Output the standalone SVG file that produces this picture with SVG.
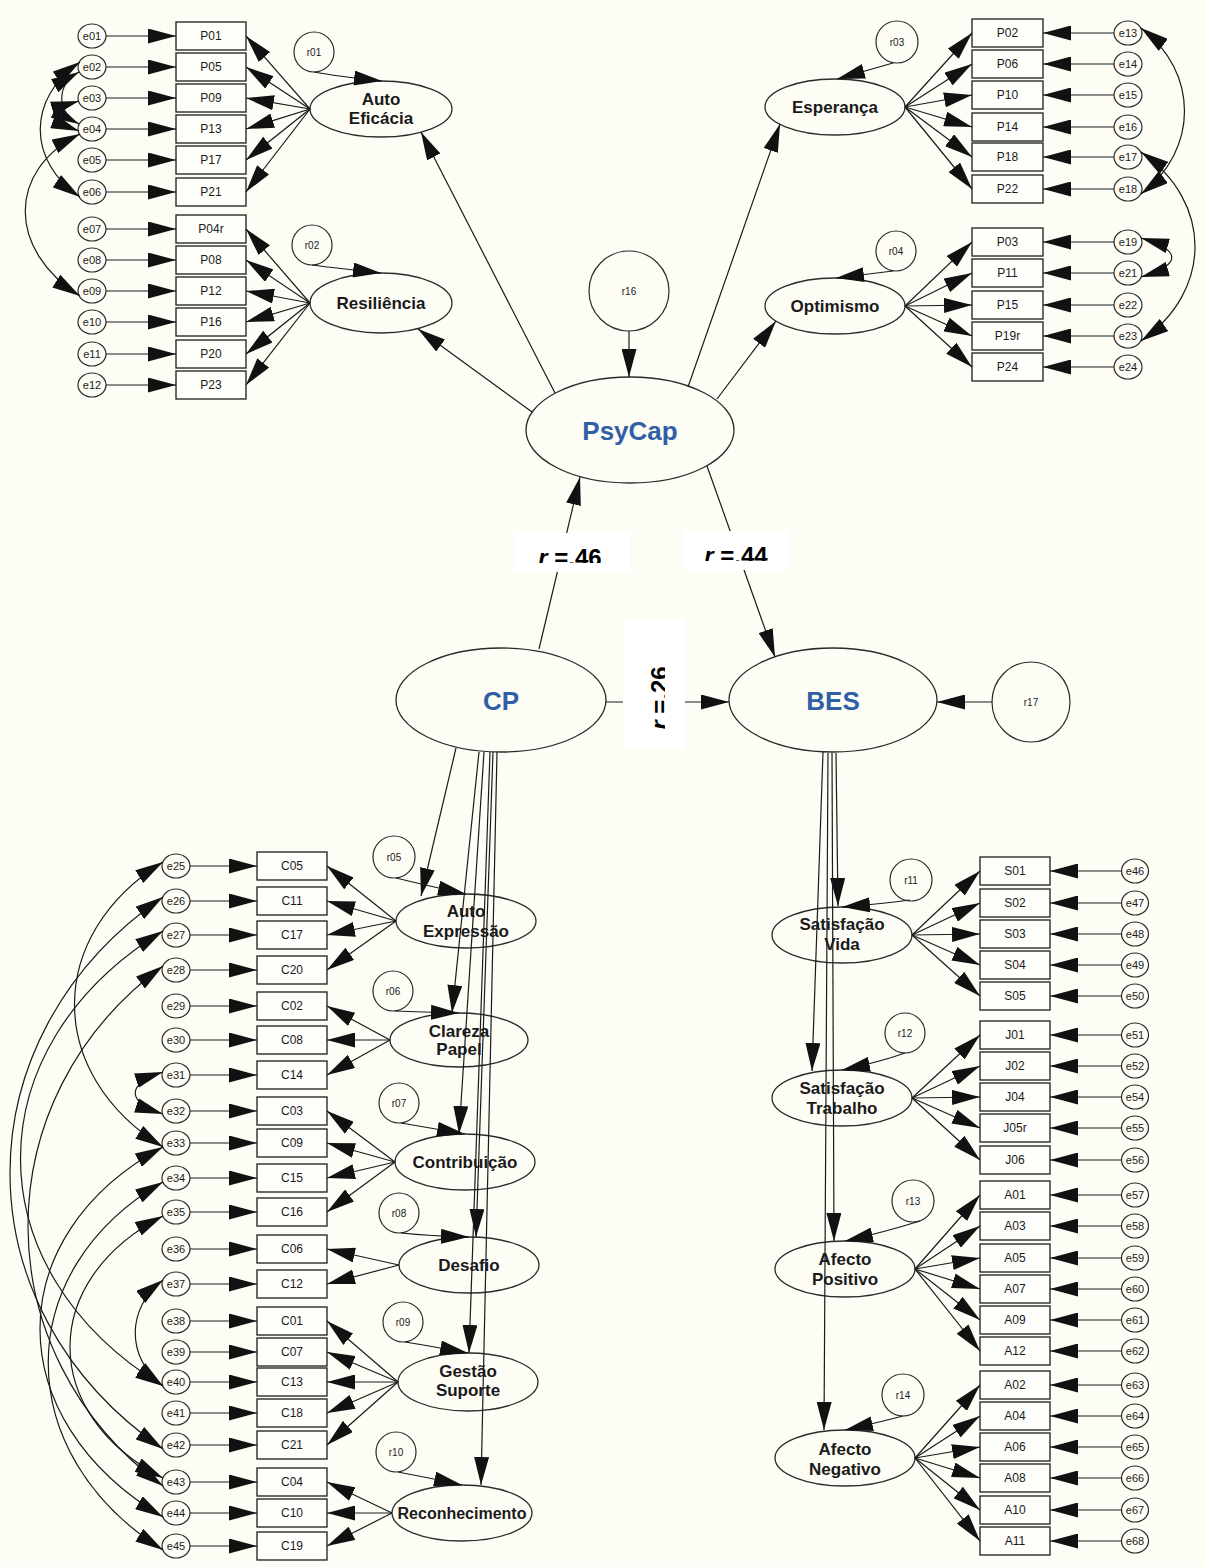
<svg xmlns="http://www.w3.org/2000/svg" width="1206" height="1567" viewBox="0 0 1206 1567">
<style>
.bg{fill:#fdfdf6}
.box{fill:#fefefa;stroke:#2a2a2a;stroke-width:1.4}
.lat{fill:#fdfdf6;stroke:#2a2a2a;stroke-width:1.3}
.err{fill:#fdfdf6;stroke:#2a2a2a;stroke-width:1.2}
.ln{fill:none;stroke:#1a1a1a;stroke-width:1.2;marker-end:url(#ah)}
.cv{fill:none;stroke:#1a1a1a;stroke-width:1.2;marker-start:url(#ahs);marker-end:url(#ah)}
text{font-family:"Liberation Sans",Arial,sans-serif;fill:#1a1a1a;text-anchor:middle}
.tb{font-size:12px}
.te{font-size:11px}
.tr{font-size:10px}
.tf{font-size:17px;font-weight:bold}
.tg{font-size:17px;font-weight:bold}
.tm{font-size:26px;font-weight:bold;fill:#2f60a6}
.tl{font-size:24px;font-weight:bold;fill:#000}
.wb{fill:#ffffff}
</style>
<defs>
<marker id="ah" markerUnits="userSpaceOnUse" markerWidth="28" markerHeight="15" refX="28" refY="7.5" orient="auto"><path d="M0,0 L28,7.5 L0,15 z" fill="#111"/></marker>
<marker id="ahs" markerUnits="userSpaceOnUse" markerWidth="28" markerHeight="15" refX="28" refY="7.5" orient="auto-start-reverse"><path d="M0,0 L28,7.5 L0,15 z" fill="#111"/></marker>
<clipPath id="c46"><rect x="515" y="533" width="115" height="30"/></clipPath>
<clipPath id="c44"><rect x="684" y="531" width="105" height="30"/></clipPath>
<clipPath id="c26"><rect x="623" y="619" width="42" height="130"/></clipPath>
</defs>
<rect class="bg" x="0" y="0" width="1206" height="1567"/>

<!-- Top-left: Auto Eficacia / Resiliencia -->
<g id="e01"><ellipse class="err" cx="92" cy="36" rx="14" ry="12"/><text class="te" x="92" y="40">e01</text></g>
<g id="e02"><ellipse class="err" cx="92" cy="67" rx="14" ry="12"/><text class="te" x="92" y="71">e02</text></g>
<g id="e03"><ellipse class="err" cx="92" cy="98" rx="14" ry="12"/><text class="te" x="92" y="102">e03</text></g>
<g id="e04"><ellipse class="err" cx="92" cy="129" rx="14" ry="12"/><text class="te" x="92" y="133">e04</text></g>
<g id="e05"><ellipse class="err" cx="92" cy="160" rx="14" ry="12"/><text class="te" x="92" y="164">e05</text></g>
<g id="e06"><ellipse class="err" cx="92" cy="192" rx="14" ry="12"/><text class="te" x="92" y="196">e06</text></g>
<g id="e07"><ellipse class="err" cx="92" cy="229" rx="14" ry="12"/><text class="te" x="92" y="233">e07</text></g>
<g id="e08"><ellipse class="err" cx="92" cy="260" rx="14" ry="12"/><text class="te" x="92" y="264">e08</text></g>
<g id="e09"><ellipse class="err" cx="92" cy="291" rx="14" ry="12"/><text class="te" x="92" y="295">e09</text></g>
<g id="e10"><ellipse class="err" cx="92" cy="322" rx="14" ry="12"/><text class="te" x="92" y="326">e10</text></g>
<g id="e11"><ellipse class="err" cx="92" cy="354" rx="14" ry="12"/><text class="te" x="92" y="358">e11</text></g>
<g id="e12"><ellipse class="err" cx="92" cy="385" rx="14" ry="12"/><text class="te" x="92" y="389">e12</text></g>

<g id="P01"><rect class="box" x="176" y="22" width="70" height="28"/><text class="tb" x="211" y="40">P01</text></g>
<g id="P05"><rect class="box" x="176" y="53" width="70" height="28"/><text class="tb" x="211" y="71">P05</text></g>
<g id="P09"><rect class="box" x="176" y="84" width="70" height="28"/><text class="tb" x="211" y="102">P09</text></g>
<g id="P13"><rect class="box" x="176" y="115" width="70" height="28"/><text class="tb" x="211" y="133">P13</text></g>
<g id="P17"><rect class="box" x="176" y="146" width="70" height="28"/><text class="tb" x="211" y="164">P17</text></g>
<g id="P21"><rect class="box" x="176" y="178" width="70" height="28"/><text class="tb" x="211" y="196">P21</text></g>
<g id="P04r"><rect class="box" x="176" y="215" width="70" height="28"/><text class="tb" x="211" y="233">P04r</text></g>
<g id="P08"><rect class="box" x="176" y="246" width="70" height="28"/><text class="tb" x="211" y="264">P08</text></g>
<g id="P12"><rect class="box" x="176" y="277" width="70" height="28"/><text class="tb" x="211" y="295">P12</text></g>
<g id="P16"><rect class="box" x="176" y="308" width="70" height="28"/><text class="tb" x="211" y="326">P16</text></g>
<g id="P20"><rect class="box" x="176" y="340" width="70" height="28"/><text class="tb" x="211" y="358">P20</text></g>
<g id="P23"><rect class="box" x="176" y="371" width="70" height="28"/><text class="tb" x="211" y="389">P23</text></g>

<g id="AutoEficacia"><ellipse class="lat" cx="381" cy="109" rx="71" ry="28"/><text class="tf" x="381" y="105">Auto</text><text class="tf" x="381" y="124">Eficácia</text></g>
<g id="Resiliencia"><ellipse class="lat" cx="381" cy="303" rx="71" ry="30"/><text class="tf" x="381" y="309">Resiliência</text></g>
<g id="r01"><circle class="err" cx="314" cy="52" r="20"/><text class="tr" x="314" y="56">r01</text></g>
<g id="r02"><circle class="err" cx="312" cy="245" r="20"/><text class="tr" x="312" y="249">r02</text></g>

<!-- Top-right: Esperanca / Optimismo -->
<g id="P02"><rect class="box" x="972" y="19" width="71" height="28"/><text class="tb" x="1007.5" y="37">P02</text></g>
<g id="P06"><rect class="box" x="972" y="50" width="71" height="28"/><text class="tb" x="1007.5" y="68">P06</text></g>
<g id="P10"><rect class="box" x="972" y="81" width="71" height="28"/><text class="tb" x="1007.5" y="99">P10</text></g>
<g id="P14"><rect class="box" x="972" y="113" width="71" height="28"/><text class="tb" x="1007.5" y="131">P14</text></g>
<g id="P18"><rect class="box" x="972" y="143" width="71" height="28"/><text class="tb" x="1007.5" y="161">P18</text></g>
<g id="P22"><rect class="box" x="972" y="175" width="71" height="28"/><text class="tb" x="1007.5" y="193">P22</text></g>
<g id="P03"><rect class="box" x="972" y="228" width="71" height="28"/><text class="tb" x="1007.5" y="246">P03</text></g>
<g id="P11"><rect class="box" x="972" y="259" width="71" height="28"/><text class="tb" x="1007.5" y="277">P11</text></g>
<g id="P15"><rect class="box" x="972" y="291" width="71" height="28"/><text class="tb" x="1007.5" y="309">P15</text></g>
<g id="P19r"><rect class="box" x="972" y="322" width="71" height="28"/><text class="tb" x="1007.5" y="340">P19r</text></g>
<g id="P24"><rect class="box" x="972" y="353" width="71" height="28"/><text class="tb" x="1007.5" y="371">P24</text></g>

<g id="e13"><ellipse class="err" cx="1128" cy="33" rx="14" ry="12"/><text class="te" x="1128" y="37">e13</text></g>
<g id="e14"><ellipse class="err" cx="1128" cy="64" rx="14" ry="12"/><text class="te" x="1128" y="68">e14</text></g>
<g id="e15"><ellipse class="err" cx="1128" cy="95" rx="14" ry="12"/><text class="te" x="1128" y="99">e15</text></g>
<g id="e16"><ellipse class="err" cx="1128" cy="127" rx="14" ry="12"/><text class="te" x="1128" y="131">e16</text></g>
<g id="e17"><ellipse class="err" cx="1128" cy="157" rx="14" ry="12"/><text class="te" x="1128" y="161">e17</text></g>
<g id="e18"><ellipse class="err" cx="1128" cy="189" rx="14" ry="12"/><text class="te" x="1128" y="193">e18</text></g>
<g id="e19"><ellipse class="err" cx="1128" cy="242" rx="14" ry="12"/><text class="te" x="1128" y="246">e19</text></g>
<g id="e21"><ellipse class="err" cx="1128" cy="273" rx="14" ry="12"/><text class="te" x="1128" y="277">e21</text></g>
<g id="e22"><ellipse class="err" cx="1128" cy="305" rx="14" ry="12"/><text class="te" x="1128" y="309">e22</text></g>
<g id="e23"><ellipse class="err" cx="1128" cy="336" rx="14" ry="12"/><text class="te" x="1128" y="340">e23</text></g>
<g id="e24"><ellipse class="err" cx="1128" cy="367" rx="14" ry="12"/><text class="te" x="1128" y="371">e24</text></g>

<g id="Esperanca"><ellipse class="lat" cx="835" cy="107" rx="70" ry="28"/><text class="tf" x="835" y="113">Esperança</text></g>
<g id="Optimismo"><ellipse class="lat" cx="835" cy="306" rx="70" ry="28"/><text class="tf" x="835" y="312">Optimismo</text></g>
<g id="r03"><circle class="err" cx="897" cy="42" r="21"/><text class="tr" x="897" y="46">r03</text></g>
<g id="r04"><circle class="err" cx="896" cy="251" r="20"/><text class="tr" x="896" y="255">r04</text></g>

<!-- Central -->
<g id="r16"><circle class="err" cx="629" cy="291" r="40"/><text class="tr" x="629" y="295">r16</text></g>
<g id="PsyCap"><ellipse class="lat" cx="630" cy="430" rx="104" ry="53"/><text class="tm" x="630" y="440">PsyCap</text></g>
<g id="CP"><ellipse class="lat" cx="501" cy="700" rx="105" ry="52"/><text class="tm" x="501" y="710">CP</text></g>
<g id="BES"><ellipse class="lat" cx="833" cy="700" rx="104" ry="52"/><text class="tm" x="833" y="710">BES</text></g>
<g id="r17"><ellipse class="err" cx="1031" cy="702" rx="39" ry="40"/><text class="tr" x="1031" y="706">r17</text></g>

<!-- Lower-left: CP factors -->
<g id="e25"><ellipse class="err" cx="176" cy="866" rx="14" ry="12"/><text class="te" x="176" y="870">e25</text></g>
<g id="e26"><ellipse class="err" cx="176" cy="901" rx="14" ry="12"/><text class="te" x="176" y="905">e26</text></g>
<g id="e27"><ellipse class="err" cx="176" cy="935" rx="14" ry="12"/><text class="te" x="176" y="939">e27</text></g>
<g id="e28"><ellipse class="err" cx="176" cy="970" rx="14" ry="12"/><text class="te" x="176" y="974">e28</text></g>
<g id="e29"><ellipse class="err" cx="176" cy="1006" rx="14" ry="12"/><text class="te" x="176" y="1010">e29</text></g>
<g id="e30"><ellipse class="err" cx="176" cy="1040" rx="14" ry="12"/><text class="te" x="176" y="1044">e30</text></g>
<g id="e31"><ellipse class="err" cx="176" cy="1075" rx="14" ry="12"/><text class="te" x="176" y="1079">e31</text></g>
<g id="e32"><ellipse class="err" cx="176" cy="1111" rx="14" ry="12"/><text class="te" x="176" y="1115">e32</text></g>
<g id="e33"><ellipse class="err" cx="176" cy="1143" rx="14" ry="12"/><text class="te" x="176" y="1147">e33</text></g>
<g id="e34"><ellipse class="err" cx="176" cy="1178" rx="14" ry="12"/><text class="te" x="176" y="1182">e34</text></g>
<g id="e35"><ellipse class="err" cx="176" cy="1212" rx="14" ry="12"/><text class="te" x="176" y="1216">e35</text></g>
<g id="e36"><ellipse class="err" cx="176" cy="1249" rx="14" ry="12"/><text class="te" x="176" y="1253">e36</text></g>
<g id="e37"><ellipse class="err" cx="176" cy="1284" rx="14" ry="12"/><text class="te" x="176" y="1288">e37</text></g>
<g id="e38"><ellipse class="err" cx="176" cy="1321" rx="14" ry="12"/><text class="te" x="176" y="1325">e38</text></g>
<g id="e39"><ellipse class="err" cx="176" cy="1352" rx="14" ry="12"/><text class="te" x="176" y="1356">e39</text></g>
<g id="e40"><ellipse class="err" cx="176" cy="1382" rx="14" ry="12"/><text class="te" x="176" y="1386">e40</text></g>
<g id="e41"><ellipse class="err" cx="176" cy="1413" rx="14" ry="12"/><text class="te" x="176" y="1417">e41</text></g>
<g id="e42"><ellipse class="err" cx="176" cy="1445" rx="14" ry="12"/><text class="te" x="176" y="1449">e42</text></g>
<g id="e43"><ellipse class="err" cx="176" cy="1482" rx="14" ry="12"/><text class="te" x="176" y="1486">e43</text></g>
<g id="e44"><ellipse class="err" cx="176" cy="1513" rx="14" ry="12"/><text class="te" x="176" y="1517">e44</text></g>
<g id="e45"><ellipse class="err" cx="176" cy="1546" rx="14" ry="12"/><text class="te" x="176" y="1550">e45</text></g>

<g id="C05"><rect class="box" x="257" y="852" width="70" height="28"/><text class="tb" x="292" y="870">C05</text></g>
<g id="C11"><rect class="box" x="257" y="887" width="70" height="28"/><text class="tb" x="292" y="905">C11</text></g>
<g id="C17"><rect class="box" x="257" y="921" width="70" height="28"/><text class="tb" x="292" y="939">C17</text></g>
<g id="C20"><rect class="box" x="257" y="956" width="70" height="28"/><text class="tb" x="292" y="974">C20</text></g>
<g id="C02"><rect class="box" x="257" y="992" width="70" height="28"/><text class="tb" x="292" y="1010">C02</text></g>
<g id="C08"><rect class="box" x="257" y="1026" width="70" height="28"/><text class="tb" x="292" y="1044">C08</text></g>
<g id="C14"><rect class="box" x="257" y="1061" width="70" height="28"/><text class="tb" x="292" y="1079">C14</text></g>
<g id="C03"><rect class="box" x="257" y="1097" width="70" height="28"/><text class="tb" x="292" y="1115">C03</text></g>
<g id="C09"><rect class="box" x="257" y="1129" width="70" height="28"/><text class="tb" x="292" y="1147">C09</text></g>
<g id="C15"><rect class="box" x="257" y="1164" width="70" height="28"/><text class="tb" x="292" y="1182">C15</text></g>
<g id="C16"><rect class="box" x="257" y="1198" width="70" height="28"/><text class="tb" x="292" y="1216">C16</text></g>
<g id="C06"><rect class="box" x="257" y="1235" width="70" height="28"/><text class="tb" x="292" y="1253">C06</text></g>
<g id="C12"><rect class="box" x="257" y="1270" width="70" height="28"/><text class="tb" x="292" y="1288">C12</text></g>
<g id="C01"><rect class="box" x="257" y="1307" width="70" height="28"/><text class="tb" x="292" y="1325">C01</text></g>
<g id="C07"><rect class="box" x="257" y="1338" width="70" height="28"/><text class="tb" x="292" y="1356">C07</text></g>
<g id="C13"><rect class="box" x="257" y="1368" width="70" height="28"/><text class="tb" x="292" y="1386">C13</text></g>
<g id="C18"><rect class="box" x="257" y="1399" width="70" height="28"/><text class="tb" x="292" y="1417">C18</text></g>
<g id="C21"><rect class="box" x="257" y="1431" width="70" height="28"/><text class="tb" x="292" y="1449">C21</text></g>
<g id="C04"><rect class="box" x="257" y="1468" width="70" height="28"/><text class="tb" x="292" y="1486">C04</text></g>
<g id="C10"><rect class="box" x="257" y="1499" width="70" height="28"/><text class="tb" x="292" y="1517">C10</text></g>
<g id="C19"><rect class="box" x="257" y="1532" width="70" height="28"/><text class="tb" x="292" y="1550">C19</text></g>

<g id="AutoExpressao"><ellipse class="lat" cx="466" cy="921" rx="70" ry="27"/><text class="tg" x="466" y="917">Auto</text><text class="tg" x="466" y="937">Expressão</text></g>
<g id="ClarezaPapel"><ellipse class="lat" cx="459" cy="1040" rx="69" ry="27"/><text class="tg" x="459" y="1037">Clareza</text><text class="tg" x="459" y="1055">Papel</text></g>
<g id="Contribuicao"><ellipse class="lat" cx="465" cy="1162" rx="70" ry="28"/><text class="tg" x="465" y="1168">Contribuição</text></g>
<g id="Desafio"><ellipse class="lat" cx="469" cy="1265" rx="70" ry="28"/><text class="tg" x="469" y="1271">Desafio</text></g>
<g id="GestaoSuporte"><ellipse class="lat" cx="468" cy="1382" rx="70" ry="29"/><text class="tg" x="468" y="1377">Gestão</text><text class="tg" x="468" y="1396">Suporte</text></g>
<g id="Reconhecimento"><ellipse class="lat" cx="462" cy="1513" rx="70" ry="28"/><text class="tg" x="462" y="1519" style="font-size:16px">Reconhecimento</text></g>
<g id="r05"><circle class="err" cx="394" cy="857" r="21"/><text class="tr" x="394" y="861">r05</text></g>
<g id="r06"><circle class="err" cx="393" cy="991" r="20"/><text class="tr" x="393" y="995">r06</text></g>
<g id="r07"><circle class="err" cx="399" cy="1103" r="20"/><text class="tr" x="399" y="1107">r07</text></g>
<g id="r08"><circle class="err" cx="399" cy="1213" r="20"/><text class="tr" x="399" y="1217">r08</text></g>
<g id="r09"><circle class="err" cx="403" cy="1322" r="20"/><text class="tr" x="403" y="1326">r09</text></g>
<g id="r10"><circle class="err" cx="396" cy="1452" r="20"/><text class="tr" x="396" y="1456">r10</text></g>

<!-- Lower-right: BES factors -->
<g id="S01"><rect class="box" x="980" y="857" width="70" height="28"/><text class="tb" x="1015" y="875">S01</text></g>
<g id="S02"><rect class="box" x="980" y="889" width="70" height="28"/><text class="tb" x="1015" y="907">S02</text></g>
<g id="S03"><rect class="box" x="980" y="920" width="70" height="28"/><text class="tb" x="1015" y="938">S03</text></g>
<g id="S04"><rect class="box" x="980" y="951" width="70" height="28"/><text class="tb" x="1015" y="969">S04</text></g>
<g id="S05"><rect class="box" x="980" y="982" width="70" height="28"/><text class="tb" x="1015" y="1000">S05</text></g>
<g id="J01"><rect class="box" x="980" y="1021" width="70" height="28"/><text class="tb" x="1015" y="1039">J01</text></g>
<g id="J02"><rect class="box" x="980" y="1052" width="70" height="28"/><text class="tb" x="1015" y="1070">J02</text></g>
<g id="J04"><rect class="box" x="980" y="1083" width="70" height="28"/><text class="tb" x="1015" y="1101">J04</text></g>
<g id="J05r"><rect class="box" x="980" y="1114" width="70" height="28"/><text class="tb" x="1015" y="1132">J05r</text></g>
<g id="J06"><rect class="box" x="980" y="1146" width="70" height="28"/><text class="tb" x="1015" y="1164">J06</text></g>
<g id="A01"><rect class="box" x="980" y="1181" width="70" height="28"/><text class="tb" x="1015" y="1199">A01</text></g>
<g id="A03"><rect class="box" x="980" y="1212" width="70" height="28"/><text class="tb" x="1015" y="1230">A03</text></g>
<g id="A05"><rect class="box" x="980" y="1244" width="70" height="28"/><text class="tb" x="1015" y="1262">A05</text></g>
<g id="A07"><rect class="box" x="980" y="1275" width="70" height="28"/><text class="tb" x="1015" y="1293">A07</text></g>
<g id="A09"><rect class="box" x="980" y="1306" width="70" height="28"/><text class="tb" x="1015" y="1324">A09</text></g>
<g id="A12"><rect class="box" x="980" y="1337" width="70" height="28"/><text class="tb" x="1015" y="1355">A12</text></g>
<g id="A02"><rect class="box" x="980" y="1371" width="70" height="28"/><text class="tb" x="1015" y="1389">A02</text></g>
<g id="A04"><rect class="box" x="980" y="1402" width="70" height="28"/><text class="tb" x="1015" y="1420">A04</text></g>
<g id="A06"><rect class="box" x="980" y="1433" width="70" height="28"/><text class="tb" x="1015" y="1451">A06</text></g>
<g id="A08"><rect class="box" x="980" y="1464" width="70" height="28"/><text class="tb" x="1015" y="1482">A08</text></g>
<g id="A10"><rect class="box" x="980" y="1496" width="70" height="28"/><text class="tb" x="1015" y="1514">A10</text></g>
<g id="A11"><rect class="box" x="980" y="1527" width="70" height="28"/><text class="tb" x="1015" y="1545">A11</text></g>

<g id="e46"><ellipse class="err" cx="1135" cy="871" rx="13.5" ry="12"/><text class="te" x="1135" y="875">e46</text></g>
<g id="e47"><ellipse class="err" cx="1135" cy="903" rx="13.5" ry="12"/><text class="te" x="1135" y="907">e47</text></g>
<g id="e48"><ellipse class="err" cx="1135" cy="934" rx="13.5" ry="12"/><text class="te" x="1135" y="938">e48</text></g>
<g id="e49"><ellipse class="err" cx="1135" cy="965" rx="13.5" ry="12"/><text class="te" x="1135" y="969">e49</text></g>
<g id="e50"><ellipse class="err" cx="1135" cy="996" rx="13.5" ry="12"/><text class="te" x="1135" y="1000">e50</text></g>
<g id="e51"><ellipse class="err" cx="1135" cy="1035" rx="13.5" ry="12"/><text class="te" x="1135" y="1039">e51</text></g>
<g id="e52"><ellipse class="err" cx="1135" cy="1066" rx="13.5" ry="12"/><text class="te" x="1135" y="1070">e52</text></g>
<g id="e54"><ellipse class="err" cx="1135" cy="1097" rx="13.5" ry="12"/><text class="te" x="1135" y="1101">e54</text></g>
<g id="e55"><ellipse class="err" cx="1135" cy="1128" rx="13.5" ry="12"/><text class="te" x="1135" y="1132">e55</text></g>
<g id="e56"><ellipse class="err" cx="1135" cy="1160" rx="13.5" ry="12"/><text class="te" x="1135" y="1164">e56</text></g>
<g id="e57"><ellipse class="err" cx="1135" cy="1195" rx="13.5" ry="12"/><text class="te" x="1135" y="1199">e57</text></g>
<g id="e58"><ellipse class="err" cx="1135" cy="1226" rx="13.5" ry="12"/><text class="te" x="1135" y="1230">e58</text></g>
<g id="e59"><ellipse class="err" cx="1135" cy="1258" rx="13.5" ry="12"/><text class="te" x="1135" y="1262">e59</text></g>
<g id="e60"><ellipse class="err" cx="1135" cy="1289" rx="13.5" ry="12"/><text class="te" x="1135" y="1293">e60</text></g>
<g id="e61"><ellipse class="err" cx="1135" cy="1320" rx="13.5" ry="12"/><text class="te" x="1135" y="1324">e61</text></g>
<g id="e62"><ellipse class="err" cx="1135" cy="1351" rx="13.5" ry="12"/><text class="te" x="1135" y="1355">e62</text></g>
<g id="e63"><ellipse class="err" cx="1135" cy="1385" rx="13.5" ry="12"/><text class="te" x="1135" y="1389">e63</text></g>
<g id="e64"><ellipse class="err" cx="1135" cy="1416" rx="13.5" ry="12"/><text class="te" x="1135" y="1420">e64</text></g>
<g id="e65"><ellipse class="err" cx="1135" cy="1447" rx="13.5" ry="12"/><text class="te" x="1135" y="1451">e65</text></g>
<g id="e66"><ellipse class="err" cx="1135" cy="1478" rx="13.5" ry="12"/><text class="te" x="1135" y="1482">e66</text></g>
<g id="e67"><ellipse class="err" cx="1135" cy="1510" rx="13.5" ry="12"/><text class="te" x="1135" y="1514">e67</text></g>
<g id="e68"><ellipse class="err" cx="1135" cy="1541" rx="13.5" ry="12"/><text class="te" x="1135" y="1545">e68</text></g>

<g id="SatisfacaoVida"><ellipse class="lat" cx="842" cy="935" rx="70" ry="28"/><text class="tg" x="842" y="930">Satisfação</text><text class="tg" x="842" y="950">Vida</text></g>
<g id="SatisfacaoTrabalho"><ellipse class="lat" cx="842" cy="1098" rx="70" ry="28"/><text class="tg" x="842" y="1094">Satisfação</text><text class="tg" x="842" y="1114">Trabalho</text></g>
<g id="AfectoPositivo"><ellipse class="lat" cx="845" cy="1269" rx="70" ry="28"/><text class="tg" x="845" y="1265">Afecto</text><text class="tg" x="845" y="1285">Positivo</text></g>
<g id="AfectoNegativo"><ellipse class="lat" cx="845" cy="1458" rx="70" ry="28"/><text class="tg" x="845" y="1455">Afecto</text><text class="tg" x="845" y="1475">Negativo</text></g>
<g id="r11"><circle class="err" cx="911" cy="880" r="21"/><text class="tr" x="911" y="884">r11</text></g>
<g id="r12"><circle class="err" cx="905" cy="1033" r="20"/><text class="tr" x="905" y="1037">r12</text></g>
<g id="r13"><circle class="err" cx="913" cy="1201" r="21"/><text class="tr" x="913" y="1205">r13</text></g>
<g id="r14"><circle class="err" cx="903" cy="1395" r="21"/><text class="tr" x="903" y="1399">r14</text></g>

<!-- Connectors -->
<g id="connectors">
<path class="ln" d="M106,36 H176"/><path class="ln" d="M106,67 H176"/><path class="ln" d="M106,98 H176"/><path class="ln" d="M106,129 H176"/><path class="ln" d="M106,160 H176"/><path class="ln" d="M106,192 H176"/>
<path class="ln" d="M106,229 H176"/><path class="ln" d="M106,260 H176"/><path class="ln" d="M106,291 H176"/><path class="ln" d="M106,322 H176"/><path class="ln" d="M106,354 H176"/><path class="ln" d="M106,385 H176"/>
<path class="ln" d="M310,109 L246,36"/><path class="ln" d="M310,109 L246,67"/><path class="ln" d="M310,109 L246,98"/><path class="ln" d="M310,109 L246,129"/><path class="ln" d="M310,109 L246,160"/><path class="ln" d="M310,109 L246,192"/>
<path class="ln" d="M310,303 L246,229"/><path class="ln" d="M310,303 L246,260"/><path class="ln" d="M310,303 L246,291"/><path class="ln" d="M310,303 L246,322"/><path class="ln" d="M310,303 L246,354"/><path class="ln" d="M310,303 L246,385"/>
<path class="ln" d="M314,72 Q335,76 382,81"/>
<path class="ln" d="M312,265 Q335,268 381,273"/>
<path class="cv" d="M80,62 C27,98 27,161 80,197"/>
<path class="cv" d="M79,72 C56,85 56,112 79,124"/>
<path class="cv" d="M79,101 C55,108 55,122 79,131"/>
<path class="cv" d="M80,134 C7,170 7,250 80,296"/>
<path class="ln" d="M1114,33 H1043"/><path class="ln" d="M1114,64 H1043"/><path class="ln" d="M1114,95 H1043"/><path class="ln" d="M1114,127 H1043"/><path class="ln" d="M1114,157 H1043"/><path class="ln" d="M1114,189 H1043"/>
<path class="ln" d="M1114,242 H1043"/><path class="ln" d="M1114,273 H1043"/><path class="ln" d="M1114,305 H1043"/><path class="ln" d="M1114,336 H1043"/><path class="ln" d="M1114,367 H1043"/>
<path class="ln" d="M905,107 L972,33"/><path class="ln" d="M905,107 L972,64"/><path class="ln" d="M905,107 L972,95"/><path class="ln" d="M905,107 L972,127"/><path class="ln" d="M905,107 L972,157"/><path class="ln" d="M905,107 L972,189"/>
<path class="ln" d="M905,306 L972,242"/><path class="ln" d="M905,306 L972,273"/><path class="ln" d="M905,306 L972,305"/><path class="ln" d="M905,306 L972,336"/><path class="ln" d="M905,306 L972,367"/>
<path class="ln" d="M893,63 L837,79"/>
<path class="ln" d="M893,271 L836,278"/>
<path class="cv" d="M1141,28 C1199,72 1199,150 1141,194"/>
<path class="cv" d="M1141,152 C1213,202 1213,291 1141,341"/>
<path class="cv" d="M1141,238 C1182,250 1182,265 1141,277"/>
<path class="ln" d="M629,331 V377"/>
<path class="ln" d="M555,393 L421,132"/>
<path class="ln" d="M532,412 L418,329"/>
<path class="ln" d="M688,387 L780,124"/>
<path class="ln" d="M717,399 L776,321"/>
<path class="ln" d="M539,649 L580,477"/>
<path class="ln" d="M707,466 L775,657"/>
<path class="ln" d="M606,702 L729,702"/>
<path class="ln" d="M992,702 L937,702"/>
<path class="ln" d="M456,748 L421,896"/>
<path class="ln" d="M479,752 L452,1013"/>
<path class="ln" d="M484,752 L459,1134"/>
<path class="ln" d="M493,752 L476,1237"/>
<path class="ln" d="M490,752 L469,1353"/>
<path class="ln" d="M497,752 L481,1485"/>
<path class="ln" d="M396,878 Q420,884 466,894"/>
<path class="ln" d="M395,1011 Q420,1012 459,1013"/>
<path class="ln" d="M401,1123 Q430,1128 465,1134"/>
<path class="ln" d="M401,1233 Q430,1236 469,1237"/>
<path class="ln" d="M405,1342 Q430,1346 468,1353"/>
<path class="ln" d="M398,1472 Q430,1478 462,1485"/>
<path class="ln" d="M190,866 H257"/><path class="ln" d="M190,901 H257"/><path class="ln" d="M190,935 H257"/><path class="ln" d="M190,970 H257"/><path class="ln" d="M190,1006 H257"/><path class="ln" d="M190,1040 H257"/><path class="ln" d="M190,1075 H257"/>
<path class="ln" d="M190,1111 H257"/><path class="ln" d="M190,1143 H257"/><path class="ln" d="M190,1178 H257"/><path class="ln" d="M190,1212 H257"/><path class="ln" d="M190,1249 H257"/><path class="ln" d="M190,1284 H257"/><path class="ln" d="M190,1321 H257"/>
<path class="ln" d="M190,1352 H257"/><path class="ln" d="M190,1382 H257"/><path class="ln" d="M190,1413 H257"/><path class="ln" d="M190,1445 H257"/><path class="ln" d="M190,1482 H257"/><path class="ln" d="M190,1513 H257"/><path class="ln" d="M190,1546 H257"/>
<path class="ln" d="M396,921 L327,866"/><path class="ln" d="M396,921 L327,901"/><path class="ln" d="M396,921 L327,935"/><path class="ln" d="M396,921 L327,970"/>
<path class="ln" d="M390,1040 L327,1006"/><path class="ln" d="M390,1040 L327,1040"/><path class="ln" d="M390,1040 L327,1075"/>
<path class="ln" d="M395,1162 L327,1111"/><path class="ln" d="M395,1162 L327,1143"/><path class="ln" d="M395,1162 L327,1178"/><path class="ln" d="M395,1162 L327,1212"/>
<path class="ln" d="M399,1265 L327,1249"/><path class="ln" d="M399,1265 L327,1284"/>
<path class="ln" d="M398,1382 L327,1321"/><path class="ln" d="M398,1382 L327,1352"/><path class="ln" d="M398,1382 L327,1382"/><path class="ln" d="M398,1382 L327,1413"/><path class="ln" d="M398,1382 L327,1445"/>
<path class="ln" d="M392,1513 L327,1482"/><path class="ln" d="M392,1513 L327,1513"/><path class="ln" d="M392,1513 L327,1546"/>
<path class="cv" d="M163,862 C45,935 45,1074 163,1147"/>
<path class="cv" d="M163,897 C-41,1037 -41,1309 163,1449"/>
<path class="cv" d="M163,931 C-27,1047 -27,1270 163,1386"/>
<path class="cv" d="M163,966 C-17,1098 -17,1354 163,1486"/>
<path class="cv" d="M163,1147 C-1,1235 -1,1420 163,1517"/>
<path class="cv" d="M163,1182 C10,1270 10,1454 163,1550"/>
<path class="cv" d="M163,1216 C39,1280 39,1414 163,1478"/>
<path class="cv" d="M163,1072 C126,1084 126,1102 163,1114"/>
<path class="cv" d="M163,1280 C126,1308 126,1358 163,1386"/>
<path class="ln" d="M836,753 L838,906"/>
<path class="ln" d="M823,752 L812,1071"/>
<path class="ln" d="M832,753 L834,1241"/>
<path class="ln" d="M828,753 L824,1430"/>
<path class="ln" d="M910,900 Q880,904 842,907"/>
<path class="ln" d="M905,1053 Q880,1062 842,1070"/>
<path class="ln" d="M920,1221 Q885,1232 845,1241"/>
<path class="ln" d="M903,1416 Q880,1422 845,1430"/>
<path class="ln" d="M912,935 L980,871"/><path class="ln" d="M912,935 L980,903"/><path class="ln" d="M912,935 L980,934"/><path class="ln" d="M912,935 L980,965"/><path class="ln" d="M912,935 L980,996"/>
<path class="ln" d="M912,1098 L980,1035"/><path class="ln" d="M912,1098 L980,1066"/><path class="ln" d="M912,1098 L980,1097"/><path class="ln" d="M912,1098 L980,1128"/><path class="ln" d="M912,1098 L980,1160"/>
<path class="ln" d="M915,1269 L980,1195"/><path class="ln" d="M915,1269 L980,1226"/><path class="ln" d="M915,1269 L980,1258"/><path class="ln" d="M915,1269 L980,1289"/><path class="ln" d="M915,1269 L980,1320"/><path class="ln" d="M915,1269 L980,1351"/>
<path class="ln" d="M915,1458 L980,1385"/><path class="ln" d="M915,1458 L980,1416"/><path class="ln" d="M915,1458 L980,1447"/><path class="ln" d="M915,1458 L980,1478"/><path class="ln" d="M915,1458 L980,1510"/><path class="ln" d="M915,1458 L980,1541"/>
<path class="ln" d="M1121,871 H1050"/><path class="ln" d="M1121,903 H1050"/><path class="ln" d="M1121,934 H1050"/><path class="ln" d="M1121,965 H1050"/><path class="ln" d="M1121,996 H1050"/>
<path class="ln" d="M1121,1035 H1050"/><path class="ln" d="M1121,1066 H1050"/><path class="ln" d="M1121,1097 H1050"/><path class="ln" d="M1121,1128 H1050"/><path class="ln" d="M1121,1160 H1050"/>
<path class="ln" d="M1121,1195 H1050"/><path class="ln" d="M1121,1226 H1050"/><path class="ln" d="M1121,1258 H1050"/><path class="ln" d="M1121,1289 H1050"/><path class="ln" d="M1121,1320 H1050"/><path class="ln" d="M1121,1351 H1050"/>
<path class="ln" d="M1121,1385 H1050"/><path class="ln" d="M1121,1416 H1050"/><path class="ln" d="M1121,1447 H1050"/><path class="ln" d="M1121,1478 H1050"/><path class="ln" d="M1121,1510 H1050"/><path class="ln" d="M1121,1541 H1050"/>
</g>

<!-- path labels -->
<g id="label-46"><rect class="wb" x="515" y="533" width="115" height="39"/><text class="tl" x="570" y="566" clip-path="url(#c46)"><tspan font-style="italic">r</tspan> =.46</text></g>
<g id="label-44"><rect class="wb" x="684" y="531" width="105" height="39"/><text class="tl" x="736" y="564" clip-path="url(#c44)"><tspan font-style="italic">r</tspan> =.44</text></g>
<g id="label-26"><rect class="wb" x="623" y="619" width="62" height="130"/><g clip-path="url(#c26)"><text class="tl" transform="translate(668,698) rotate(-90)" x="0" y="0"><tspan font-style="italic">r</tspan> =.26</text></g></g>
</svg>
